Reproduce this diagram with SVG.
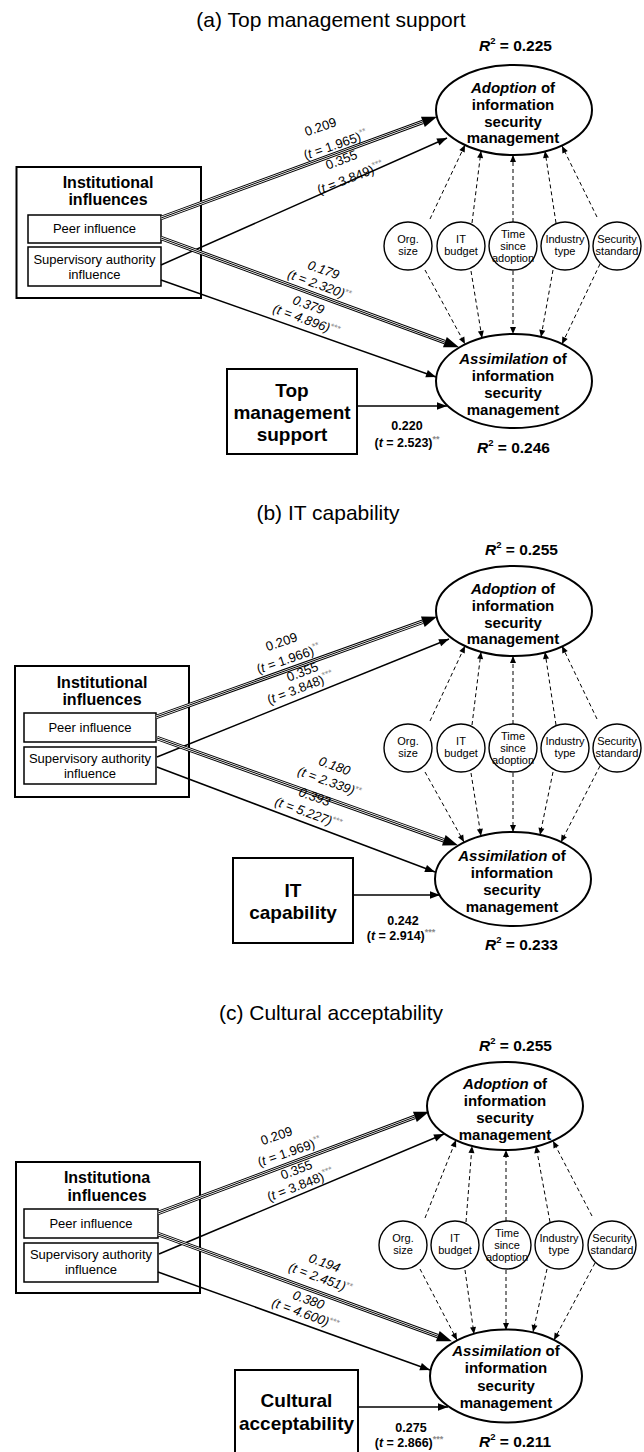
<svg xmlns="http://www.w3.org/2000/svg" width="644" height="1452" viewBox="0 0 644 1452">
<style>
text{font-family:"Liberation Sans",Arial,Helvetica,sans-serif;fill:#000}
.title{font-size:21px;text-anchor:middle}
.r2{font-size:15.5px;font-weight:bold}
.el{fill:none;stroke:#000;stroke-width:2}
.box{fill:none;stroke:#000;stroke-width:2}
.sub{fill:#fff;stroke:#000;stroke-width:1.5}
.circ{fill:#fff;stroke:#000;stroke-width:1.4}
.et{font-size:15px;font-weight:bold;text-anchor:middle}
.it{font-size:16px;font-weight:bold;text-anchor:middle}
.st{font-size:13px;text-anchor:middle}
.ct{font-size:11px;text-anchor:middle}
.bt{font-size:19px;font-weight:bold;text-anchor:middle}
.lb{font-size:13px;text-anchor:middle}
.ld{font-size:13px;text-anchor:middle;font-style:italic}
.bl{font-size:12.5px;font-weight:bold;text-anchor:middle}
.ast{fill:#8a8a8a;font-size:9px;font-style:normal}
.ln{stroke:#000;stroke-width:1.5;fill:none}
.dl{stroke:#000;stroke-width:1;stroke-dasharray:4 3;fill:none}
.tb{stroke:#000;stroke-width:4.5;fill:none}
.tw{stroke:#fff;stroke-width:2.5;fill:none}
.tc{stroke:#000;stroke-width:1;fill:none}
</style>
<defs>
<marker id="big" markerUnits="userSpaceOnUse" orient="auto" refX="0" refY="0" markerWidth="20" markerHeight="20" overflow="visible"><path d="M0,-5.5 L15,0 L0,5.5 z" fill="#000"/></marker>
<marker id="arr" markerUnits="userSpaceOnUse" orient="auto" refX="0" refY="0" markerWidth="14" markerHeight="14" overflow="visible"><path d="M-10,-3.8 L0,0 L-10,3.8 z" fill="#000"/></marker>
<marker id="dsh" markerUnits="userSpaceOnUse" orient="auto" refX="0" refY="0" markerWidth="10" markerHeight="10" overflow="visible"><path d="M-7,-3 L0,0 L-7,3 z" fill="#000"/></marker>
</defs>
<rect x="0" y="0" width="644" height="1452" fill="#fff"/>

<!-- ===== Panel (a) ===== -->
<g id="panel-a">
<g id="a-title"><text class="title" x="331" y="27">(a) Top management support</text></g>
<g id="a-r2-top"><text class="r2" x="479" y="51"><tspan font-style="italic">R</tspan><tspan font-size="9.5" dy="-7">2</tspan><tspan dy="7"> = 0.225</tspan></text></g>
<g id="a-adoption">
<ellipse class="el" cx="514" cy="110" rx="78" ry="45"/>
<text class="et" x="513" y="93"><tspan font-style="italic">Adoption</tspan> of</text>
<text class="et" x="513" y="110">information</text>
<text class="et" x="513" y="127">security</text>
<text class="et" x="513" y="143">management</text>
</g>
<g id="a-institutional">
<rect class="box" x="16.5" y="167" width="184.5" height="131"/>
<text class="it" x="108" y="188">Institutional</text>
<text class="it" x="108" y="205">influences</text>
</g>
<g id="a-peer"><rect class="sub" x="28" y="215" width="133" height="28"/><text class="st" x="94.5" y="233">Peer influence</text></g>
<g id="a-supervisory"><rect class="sub" x="28" y="247" width="133" height="39"/><text class="st" x="94.5" y="264">Supervisory authority</text><text class="st" x="94.5" y="279">influence</text></g>
<g id="a-orgsize"><circle class="circ" cx="408" cy="246" r="24"/><text class="ct" x="408" y="243">Org.</text><text class="ct" x="408" y="255">size</text></g>
<g id="a-itbudget"><circle class="circ" cx="461" cy="246" r="24"/><text class="ct" x="461" y="243">IT</text><text class="ct" x="461" y="255">budget</text></g>
<g id="a-time"><circle class="circ" cx="513" cy="246" r="24"/><text class="ct" x="513" y="238">Time</text><text class="ct" x="513" y="250">since</text><text class="ct" x="513" y="262">adoption</text></g>
<g id="a-industry"><circle class="circ" cx="565" cy="246" r="24"/><text class="ct" x="565" y="243">Industry</text><text class="ct" x="565" y="255">type</text></g>
<g id="a-security"><circle class="circ" cx="617" cy="246" r="24"/><text class="ct" x="617" y="243">Security</text><text class="ct" x="617" y="255">standard</text></g>
<g id="a-assimilation">
<ellipse class="el" cx="514" cy="381" rx="78" ry="47"/>
<text class="et" x="513" y="364"><tspan font-style="italic">Assimilation</tspan> of</text>
<text class="et" x="513" y="381">information</text>
<text class="et" x="513" y="398">security</text>
<text class="et" x="513" y="415">management</text>
</g>
<g id="a-topmgmt">
<rect class="box" x="227" y="369" width="130" height="85"/>
<text class="bt" x="292" y="397">Top</text>
<text class="bt" x="292" y="419">management</text>
<text class="bt" x="292" y="441">support</text>
</g>
<g id="a-r2-bottom"><text class="r2" x="477" y="453"><tspan font-style="italic">R</tspan><tspan font-size="9.5" dy="-7">2</tspan><tspan dy="7"> = 0.246</tspan></text></g>
<g id="a-connectors">
<line class="tb" x1="161" y1="218" x2="422.9" y2="121.8"/><line class="tw" x1="161" y1="218" x2="422.9" y2="121.8"/><line class="tc" x1="161" y1="218" x2="422.9" y2="121.8" marker-end="url(#big)"/>
<line class="ln" x1="161" y1="265" x2="447" y2="138" marker-end="url(#arr)"/>
<line class="tb" x1="161" y1="238" x2="444.9" y2="342.2"/><line class="tw" x1="161" y1="238" x2="444.9" y2="342.2"/><line class="tc" x1="161" y1="238" x2="444.9" y2="342.2" marker-end="url(#big)"/>
<line class="ln" x1="161" y1="280" x2="436" y2="377" marker-end="url(#arr)"/>
<line class="ln" x1="357" y1="406" x2="447" y2="406" marker-end="url(#arr)"/>
<line class="dl" x1="430" y1="219" x2="465" y2="145" marker-end="url(#dsh)"/>
<line class="dl" x1="472" y1="223" x2="481" y2="151" marker-end="url(#dsh)"/>
<line class="dl" x1="513" y1="222" x2="513" y2="155" marker-end="url(#dsh)"/>
<line class="dl" x1="556" y1="223" x2="545" y2="151" marker-end="url(#dsh)"/>
<line class="dl" x1="597" y1="217" x2="562" y2="146" marker-end="url(#dsh)"/>
<line class="dl" x1="425" y1="270" x2="465" y2="344" marker-end="url(#dsh)"/>
<line class="dl" x1="471" y1="271" x2="482" y2="338" marker-end="url(#dsh)"/>
<line class="dl" x1="513" y1="271" x2="513" y2="334" marker-end="url(#dsh)"/>
<line class="dl" x1="553" y1="270" x2="541" y2="337" marker-end="url(#dsh)"/>
<line class="dl" x1="600" y1="264" x2="562" y2="344" marker-end="url(#dsh)"/>
<text class="lb" transform="translate(322,131) rotate(-19)">0.209</text>
<text class="lb" transform="translate(337,149) rotate(-19)">(<tspan font-style="italic">t</tspan> = 1.965)<tspan class="ast" dy="-5">**</tspan></text>
<text class="lb" transform="translate(343,164) rotate(-21)">0.355</text>
<text class="lb" transform="translate(352,182) rotate(-21)">(<tspan font-style="italic">t</tspan> = 3.849)<tspan class="ast" dy="-5">***</tspan></text>
<text class="ld" transform="translate(322,274) rotate(20)">0.179</text>
<text class="ld" transform="translate(318,289) rotate(20)">(t = 2.320)<tspan class="ast" dy="-4">**</tspan></text>
<text class="ld" transform="translate(307,309) rotate(20)">0.379</text>
<text class="ld" transform="translate(305,324) rotate(20)">(t = 4.896)<tspan class="ast" dy="-4">***</tspan></text>
<text class="bl" x="407" y="430">0.220</text>
<text class="bl" x="407" y="447">(<tspan font-style="italic">t</tspan> = 2.523)<tspan class="ast" dy="-5">**</tspan></text>
</g>
</g>

<!-- ===== Panel (b) ===== -->
<g id="panel-b">
<g id="b-title"><text class="title" x="328" y="520">(b) IT capability</text></g>
<g id="b-r2-top"><text class="r2" x="485" y="555"><tspan font-style="italic">R</tspan><tspan font-size="9.5" dy="-7">2</tspan><tspan dy="7"> = 0.255</tspan></text></g>
<g id="b-adoption">
<ellipse class="el" cx="514" cy="611" rx="78" ry="45"/>
<text class="et" x="513" y="594"><tspan font-style="italic">Adoption</tspan> of</text>
<text class="et" x="513" y="611">information</text>
<text class="et" x="513" y="628">security</text>
<text class="et" x="513" y="644">management</text>
</g>
<g id="b-institutional">
<rect class="box" x="15" y="666" width="174" height="131"/>
<text class="it" x="102" y="688">Institutional</text>
<text class="it" x="102" y="705">influences</text>
</g>
<g id="b-peer"><rect class="sub" x="24" y="713" width="132" height="29"/><text class="st" x="90" y="732">Peer influence</text></g>
<g id="b-supervisory"><rect class="sub" x="24" y="747" width="132" height="37"/><text class="st" x="90" y="763">Supervisory authority</text><text class="st" x="90" y="778">influence</text></g>
<g id="b-orgsize"><circle class="circ" cx="408" cy="748" r="24"/><text class="ct" x="408" y="745">Org.</text><text class="ct" x="408" y="757">size</text></g>
<g id="b-itbudget"><circle class="circ" cx="461" cy="748" r="24"/><text class="ct" x="461" y="745">IT</text><text class="ct" x="461" y="757">budget</text></g>
<g id="b-time"><circle class="circ" cx="513" cy="748" r="24"/><text class="ct" x="513" y="740">Time</text><text class="ct" x="513" y="752">since</text><text class="ct" x="513" y="764">adoption</text></g>
<g id="b-industry"><circle class="circ" cx="565" cy="748" r="24"/><text class="ct" x="565" y="745">Industry</text><text class="ct" x="565" y="757">type</text></g>
<g id="b-security"><circle class="circ" cx="617" cy="748" r="24"/><text class="ct" x="617" y="745">Security</text><text class="ct" x="617" y="757">standard</text></g>
<g id="b-assimilation">
<ellipse class="el" cx="513" cy="879" rx="78" ry="47"/>
<text class="et" x="512" y="861"><tspan font-style="italic">Assimilation</tspan> of</text>
<text class="et" x="512" y="878">information</text>
<text class="et" x="512" y="895">security</text>
<text class="et" x="512" y="912">management</text>
</g>
<g id="b-itcap">
<rect class="box" x="233" y="858" width="120" height="85"/>
<text class="bt" x="293" y="897">IT</text>
<text class="bt" x="293" y="919">capability</text>
</g>
<g id="b-r2-bottom"><text class="r2" x="485" y="950"><tspan font-style="italic">R</tspan><tspan font-size="9.5" dy="-7">2</tspan><tspan dy="7"> = 0.233</tspan></text></g>
<g id="b-connectors">
<line class="tb" x1="156" y1="717" x2="422.8" y2="621.7"/><line class="tw" x1="156" y1="717" x2="422.8" y2="621.7"/><line class="tc" x1="156" y1="717" x2="422.8" y2="621.7" marker-end="url(#big)"/>
<line class="ln" x1="157" y1="757" x2="449" y2="639" marker-end="url(#arr)"/>
<line class="tb" x1="157" y1="738" x2="443.8" y2="840.3"/><line class="tw" x1="157" y1="738" x2="443.8" y2="840.3"/><line class="tc" x1="157" y1="738" x2="443.8" y2="840.3" marker-end="url(#big)"/>
<line class="ln" x1="157" y1="767" x2="435" y2="872" marker-end="url(#arr)"/>
<line class="ln" x1="353" y1="895" x2="440" y2="895" marker-end="url(#arr)"/>
<line class="dl" x1="430" y1="721" x2="465" y2="646" marker-end="url(#dsh)"/>
<line class="dl" x1="472" y1="725" x2="481" y2="652" marker-end="url(#dsh)"/>
<line class="dl" x1="513" y1="724" x2="513" y2="656" marker-end="url(#dsh)"/>
<line class="dl" x1="556" y1="725" x2="545" y2="652" marker-end="url(#dsh)"/>
<line class="dl" x1="597" y1="719" x2="562" y2="646" marker-end="url(#dsh)"/>
<line class="dl" x1="425" y1="772" x2="464" y2="842" marker-end="url(#dsh)"/>
<line class="dl" x1="471" y1="773" x2="481" y2="836" marker-end="url(#dsh)"/>
<line class="dl" x1="513" y1="773" x2="513" y2="832" marker-end="url(#dsh)"/>
<line class="dl" x1="553" y1="772" x2="540" y2="835" marker-end="url(#dsh)"/>
<line class="dl" x1="600" y1="766" x2="561" y2="842" marker-end="url(#dsh)"/>
<text class="lb" transform="translate(283,646) rotate(-19)">0.209</text>
<text class="lb" transform="translate(290,663) rotate(-19)">(<tspan font-style="italic">t</tspan> = 1.966)<tspan class="ast" dy="-5">**</tspan></text>
<text class="lb" transform="translate(304,676) rotate(-21)">0.355</text>
<text class="lb" transform="translate(302,692) rotate(-21)">(<tspan font-style="italic">t</tspan> = 3.848)<tspan class="ast" dy="-5">***</tspan></text>
<text class="ld" transform="translate(333,770) rotate(20)">0.180</text>
<text class="ld" transform="translate(328,786) rotate(20)">(t = 2.339)<tspan class="ast" dy="-4">**</tspan></text>
<text class="ld" transform="translate(313,801) rotate(20)">0.393</text>
<text class="ld" transform="translate(307,817) rotate(20)">(t = 5.227)<tspan class="ast" dy="-4">***</tspan></text>
<text class="bl" x="403" y="925">0.242</text>
<text class="bl" x="401" y="940">(<tspan font-style="italic">t</tspan> = 2.914)<tspan class="ast" dy="-5">***</tspan></text>
</g>
</g>

<!-- ===== Panel (c) ===== -->
<g id="panel-c">
<g id="c-title"><text class="title" x="331" y="1020">(c) Cultural acceptability</text></g>
<g id="c-r2-top"><text class="r2" x="479" y="1051"><tspan font-style="italic">R</tspan><tspan font-size="9.5" dy="-7">2</tspan><tspan dy="7"> = 0.255</tspan></text></g>
<g id="c-adoption">
<ellipse class="el" cx="505" cy="1106" rx="78" ry="44"/>
<text class="et" x="505" y="1089"><tspan font-style="italic">Adoption</tspan> of</text>
<text class="et" x="505" y="1106">information</text>
<text class="et" x="505" y="1123">security</text>
<text class="et" x="505" y="1140">management</text>
</g>
<g id="c-institutional">
<rect class="box" x="16" y="1162" width="184" height="131"/>
<text class="it" x="107" y="1183">Institutiona</text>
<text class="it" x="107" y="1201">influences</text>
</g>
<g id="c-peer"><rect class="sub" x="24" y="1209" width="134" height="29"/><text class="st" x="91" y="1228">Peer influence</text></g>
<g id="c-supervisory"><rect class="sub" x="24" y="1243" width="134" height="39"/><text class="st" x="91" y="1259">Supervisory authority</text><text class="st" x="91" y="1274">influence</text></g>
<g id="c-orgsize"><circle class="circ" cx="403" cy="1245" r="24"/><text class="ct" x="403" y="1242">Org.</text><text class="ct" x="403" y="1254">size</text></g>
<g id="c-itbudget"><circle class="circ" cx="455" cy="1245" r="24"/><text class="ct" x="455" y="1242">IT</text><text class="ct" x="455" y="1254">budget</text></g>
<g id="c-time"><circle class="circ" cx="507" cy="1245" r="24"/><text class="ct" x="507" y="1237">Time</text><text class="ct" x="507" y="1249">since</text><text class="ct" x="507" y="1261">adoption</text></g>
<g id="c-industry"><circle class="circ" cx="559" cy="1245" r="24"/><text class="ct" x="559" y="1242">Industry</text><text class="ct" x="559" y="1254">type</text></g>
<g id="c-security"><circle class="circ" cx="612" cy="1245" r="24"/><text class="ct" x="612" y="1242">Security</text><text class="ct" x="612" y="1254">standard</text></g>
<g id="c-assimilation">
<ellipse class="el" cx="506" cy="1376" rx="76" ry="46.5"/>
<text class="et" x="506" y="1356"><tspan font-style="italic">Assimilation</tspan> of</text>
<text class="et" x="506" y="1373">information</text>
<text class="et" x="506" y="1391">security</text>
<text class="et" x="506" y="1408">management</text>
</g>
<g id="c-cultural">
<rect class="box" x="235" y="1370" width="123" height="92"/>
<text class="bt" x="296.5" y="1407">Cultural</text>
<text class="bt" x="296.5" y="1430">acceptability</text>
</g>
<g id="c-r2-bottom"><text class="r2" x="479" y="1447"><tspan font-style="italic">R</tspan><tspan font-size="9.5" dy="-7">2</tspan><tspan dy="7"> = 0.211</tspan></text></g>
<g id="c-connectors">
<line class="tb" x1="158" y1="1213" x2="414.9" y2="1116.9"/><line class="tw" x1="158" y1="1213" x2="414.9" y2="1116.9"/><line class="tc" x1="158" y1="1213" x2="414.9" y2="1116.9" marker-end="url(#big)"/>
<line class="ln" x1="159" y1="1254" x2="444" y2="1134" marker-end="url(#arr)"/>
<line class="tb" x1="158" y1="1234" x2="437.8" y2="1336.2"/><line class="tw" x1="158" y1="1234" x2="437.8" y2="1336.2"/><line class="tc" x1="158" y1="1234" x2="437.8" y2="1336.2" marker-end="url(#big)"/>
<line class="ln" x1="158" y1="1272" x2="430" y2="1370" marker-end="url(#arr)"/>
<line class="ln" x1="358" y1="1407" x2="448" y2="1407" marker-end="url(#arr)"/>
<line class="dl" x1="425" y1="1218" x2="456" y2="1140" marker-end="url(#dsh)"/>
<line class="dl" x1="466" y1="1222" x2="472" y2="1146" marker-end="url(#dsh)"/>
<line class="dl" x1="506" y1="1221" x2="506" y2="1150" marker-end="url(#dsh)"/>
<line class="dl" x1="550" y1="1222" x2="536" y2="1146" marker-end="url(#dsh)"/>
<line class="dl" x1="592" y1="1216" x2="553" y2="1141" marker-end="url(#dsh)"/>
<line class="dl" x1="420" y1="1269" x2="457" y2="1340" marker-end="url(#dsh)"/>
<line class="dl" x1="465" y1="1270" x2="474" y2="1334" marker-end="url(#dsh)"/>
<line class="dl" x1="506" y1="1270" x2="506" y2="1330" marker-end="url(#dsh)"/>
<line class="dl" x1="547" y1="1269" x2="533" y2="1332" marker-end="url(#dsh)"/>
<line class="dl" x1="595" y1="1263" x2="554" y2="1340" marker-end="url(#dsh)"/>
<text class="lb" transform="translate(278,1140) rotate(-19)">0.209</text>
<text class="lb" transform="translate(291,1156) rotate(-19)">(<tspan font-style="italic">t</tspan> = 1.969)<tspan class="ast" dy="-5">**</tspan></text>
<text class="lb" transform="translate(298,1174) rotate(-21)">0.355</text>
<text class="lb" transform="translate(302,1189) rotate(-21)">(<tspan font-style="italic">t</tspan> = 3.848)<tspan class="ast" dy="-5">***</tspan></text>
<text class="ld" transform="translate(323,1267) rotate(20)">0.194</text>
<text class="ld" transform="translate(319,1282) rotate(20)">(t = 2.451)<tspan class="ast" dy="-4">**</tspan></text>
<text class="ld" transform="translate(307,1304) rotate(20)">0.380</text>
<text class="ld" transform="translate(304,1318) rotate(20)">(t = 4.600)<tspan class="ast" dy="-4">***</tspan></text>
<text class="bl" x="411" y="1432">0.275</text>
<text class="bl" x="409" y="1447">(<tspan font-style="italic">t</tspan> = 2.866)<tspan class="ast" dy="-5">***</tspan></text>
</g>
</g>
</svg>
